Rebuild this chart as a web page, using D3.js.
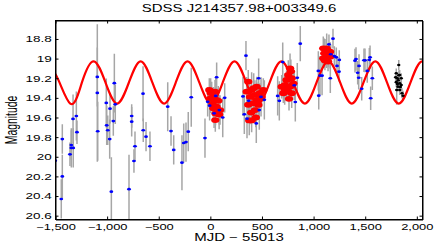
<!DOCTYPE html>
<html><head><meta charset="utf-8">
<script src="https://cdn.jsdelivr.net/npm/d3@7"></script>
<style>
body{margin:0;background:#fff}
svg{display:block}
text{font-family:"Liberation Sans",Arial,Helvetica,sans-serif;fill:#000}
</style>
</head><body>
<svg id="c" width="436" height="245"></svg>
<script>
const titleText = "SDSS J214357.98+003349.6";
const xLabelText = "MJD \u2212 55013";
const yLabelText = "Magnitude";
const xTicks = [-1500,-1000,-500,0,500,1000,1500,2000];
const yTicks = [18.8,19,19.2,19.4,19.6,19.8,20,20.2,20.4,20.6];

// blue points (day, magnitude, error)
const blueDay = [-1502,-1444,-1434,-1434,-1360,-1347,-1347,-1328,-1330,-1298,-1292,-1095,-1095,-1091,-1008,-1004,-994,-975,-972,-930,-921,-940,-959,-788,-762,-762,-740,-730,-652,-650,-623,-585,
-413,-381,-355,-275,-258,-236,-214,-185,-52,-26,-7,36,52,61,87,120,139,
316,329,345,355,371,445,468,474,491,523,652,668,701,
813,823,842,871,1046,1050,1062,1082,1149,1162,1166,1188,1201,1220,1227,1246,1249,
1401,1411,1427,1437,1440,1466,1488,1498,1520,1540,1547,1553,1569];
const blueMag = [20.04,20.43,20.2,19.82,19.975,19.91,19.88,19.91,19.615,19.585,19.75,19.187,19.35,19.74,19.452,19.68,19.73,19.82,19.51,19.25,19.466,19.636,20.356,20.33,19.585,19.643,20.043,19.893,19.357,19.73,19.795,19.893,
19.49,19.738,19.93,20.06,19.86,19.85,19.744,19.394,19.81,19.44,19.48,19.557,19.38,19.19,19.524,19.6,19.4,
19.385,19.568,18.97,19.612,19.43,19.66,19.2,19.524,19.39,19.42,19.38,19.43,19.035,
19.272,19.442,19.195,18.848,19.126,19.378,19.174,19.174,18.855,19.2,18.956,18.797,18.974,18.987,19.075,19.133,19.014,
19.021,19.004,19.144,19.195,19.075,19.307,19.017,19.018,19.126,19.013,18.987,19.404,19.2];
const blueErr = [0.05,0.2,0.22,0.15,0.12,0.2,0.15,0.2,0.25,0.25,0.12,0.3,0.7,0.3,0.25,0.2,0.15,0.2,0.15,0.3,0.2,0.15,0.35,0.35,0.12,0.15,0.12,0.15,0.28,0.12,0.15,0.15,
0.25,0.15,0.15,0.28,0.2,0.2,0.2,0.3,0.2,0.15,0.15,0.15,0.2,0.15,0.15,0.2,0.15,
0.2,0.2,0.15,0.2,0.2,0.2,0.2,0.2,0.2,0.2,0.2,0.2,0.2,
0.15,0.2,0.15,0.18,0.2,0.14,0.2,0.2,0.1,0.15,0.1,0.1,0.1,0.1,0.1,0.1,0.1,
0.12,0.12,0.12,0.12,0.12,0.12,0.12,0.12,0.12,0.12,0.12,0.12,0.12];

// red points
const redDay = [-10,3,13,45,3,30,61,77,29,60,94,48,20,50,85,
352,367,400,449,432,384,449,416,465,367,432,400,377,497,513,420,480,395,440,
691,707,720,723,738,740,755,755,762,772,772,780,788,788,804,
1094,1094,1104,1110,1120,1127,1127,1140,1143,1159,1160];
const redMag = [19.32,19.35,19.337,19.337,19.405,19.39,19.42,19.43,19.506,19.49,19.524,19.626,19.46,19.56,19.57,
19.337,19.235,19.32,19.286,19.37,19.39,19.42,19.455,19.472,19.47,19.524,19.63,19.63,19.39,19.32,19.3,19.35,19.55,19.6,
19.286,19.353,19.32,19.269,19.218,19.3,19.167,19.337,19.41,19.099,19.286,19.13,19.2,19.353,19.252,
18.895,18.997,18.946,19.02,18.92,18.895,18.997,19.03,18.963,18.93,18.98];
const redErr = [0.12,0.15,0.1,0.12,0.15,0.1,0.12,0.15,0.12,0.1,0.15,0.12,0.1,0.12,0.15,
0.15,0.12,0.18,0.1,0.15,0.12,0.18,0.1,0.15,0.12,0.1,0.12,0.15,0.1,0.12,0.15,0.1,0.12,0.1,
0.12,0.1,0.15,0.12,0.1,0.12,0.15,0.1,0.12,0.15,0.1,0.12,0.1,0.15,0.12,
0.12,0.1,0.15,0.1,0.12,0.15,0.1,0.1,0.12,0.1,0.12];

// black points
const blackDay = [1795,1801,1801,1805,1810,1812,1817,1820,1825,1826,1834,1834,1834,1840,1849,1849,1856,1866];
const blackMag = [19.19,19.15,19.24,19.32,19.2,19.26,19.286,19.22,19.065,19.17,19.167,19.252,19.32,19.29,19.2,19.27,19.353,19.378];
const blackErr = [0.05,0.05,0.05,0.15,0.05,0.05,0.05,0.05,0.05,0.05,0.05,0.05,0.05,0.05,0.05,0.05,0.05,0.05];

// model curve knots (extremes and mid-levels)
const modelDay = [-1584,-1500,-1357,-1244,-1130,-1016,-903,-789,-675,-562,-448,-335,-221,-107,7,120,234,347,461,575,688,802,916,1029,1143,1257,1370,1484,1598,1711,1825,1939,2052,2166];
const modelMag = [19.243,19.16,19.458,19.243,19.028,19.243,19.458,19.243,19.028,19.243,19.458,19.243,19.028,19.243,19.458,19.243,19.028,19.243,19.458,19.243,19.028,19.243,19.458,19.243,19.028,19.243,19.458,19.243,19.028,19.243,19.458,19.243,19.028,19.243];

const svg = d3.select("#c");
const L=55.5, R=422.5, T=20.5, B=219.5;
const x = d3.scaleLinear().domain([-1500,2055]).range([L,R]);
const y = d3.scaleLinear().domain([18.612,20.639]).range([T,B]);
const SX = 1.5;

svg.append("defs").append("clipPath").attr("id","clip")
  .append("rect").attr("x",L).attr("y",T).attr("width",R-L).attr("height",B-T);
const plot = svg.append("g").attr("clip-path","url(#clip)");

const mk = (d,m,e)=>d.map((v,i)=>({d:v,m:m[i],e:e[i]}));
const blue = mk(blueDay,blueMag,blueErr);
const red = mk(redDay,redMag,redErr);
const black = mk(blackDay,blackMag,blackErr);

// error bars
const allErr = red.concat(blue, black);
plot.append("g").selectAll("line").data(allErr).join("line")
  .attr("x1",p=>x(p.d)).attr("x2",p=>x(p.d))
  .attr("y1",p=>y(p.m-p.e)).attr("y2",p=>y(p.m+p.e))
  .attr("stroke","#a6a6a6").attr("stroke-width",1.5);

// model curve
const model = modelDay.map((d,i)=>({d,m:modelMag[i]}));
plot.append("path").datum(model)
  .attr("d", d3.line().x(p=>x(p.d)).y(p=>y(p.m)).curve(d3.curveNatural))
  .attr("fill","none").attr("stroke","#ff0000").attr("stroke-width",2.2);

// red markers
plot.append("g").selectAll("ellipse").data(red).join("ellipse")
  .attr("cx",p=>x(p.d)).attr("cy",p=>y(p.m)).attr("rx",4.2).attr("ry",2.9)
  .attr("fill","#ff0000");
// blue markers
plot.append("g").selectAll("ellipse").data(blue).join("ellipse")
  .attr("cx",p=>x(p.d)).attr("cy",p=>y(p.m)).attr("rx",1.9).attr("ry",1.35)
  .attr("fill","#0000ff");
// black markers
plot.append("g").selectAll("ellipse").data(black).join("ellipse")
  .attr("cx",p=>x(p.d)).attr("cy",p=>y(p.m)).attr("rx",1.7).attr("ry",1.3)
  .attr("fill","#000");

// axes
const ax = g=>{ g.selectAll("line").attr("stroke","#000"); g.select(".domain").attr("stroke","#000"); };
svg.append("g").attr("transform",`translate(0,${B})`)
  .call(d3.axisBottom(x).tickValues(xTicks).tickSize(-3).tickSizeOuter(0).tickPadding(4.3))
  .call(ax)
  .call(g=>g.selectAll("text").attr("font-size",8.6).attr("transform",`scale(${SX},1)`));
svg.append("g").attr("transform",`translate(0,${T})`)
  .call(d3.axisTop(x).tickValues(xTicks).tickSize(-3).tickSizeOuter(0).tickFormat(""))
  .call(ax);
svg.append("g").attr("transform",`translate(${L},0)`)
  .call(d3.axisLeft(y).tickValues(yTicks).tickSize(-3).tickSizeOuter(0).tickPadding(2.5).tickFormat(d=>String(d)))
  .call(ax)
  .call(g=>g.selectAll("text").attr("font-size",9).attr("transform",`scale(${SX},1)`));
svg.append("g").attr("transform",`translate(${R},0)`)
  .call(d3.axisRight(y).tickValues(yTicks).tickSize(-3).tickSizeOuter(0).tickFormat(""))
  .call(ax);
svg.selectAll(".tick text").attr("font-family","'Liberation Sans',Arial,sans-serif");

svg.append("rect").attr("x",L).attr("y",T).attr("width",R-L).attr("height",B-T)
  .attr("fill","none").attr("stroke","#000").attr("stroke-width",1);

// titles
svg.append("text").attr("transform",`translate(${(L+R)/2},11.6) scale(${SX},1)`)
  .attr("text-anchor","middle").attr("font-size",10).text(titleText);
svg.append("text").attr("transform",`translate(${(L+R)/2},240.7) scale(${SX},1)`)
  .attr("text-anchor","middle").attr("font-size",10).text(xLabelText);
svg.append("text").attr("transform",`translate(17,${(T+B)/2}) scale(${SX},1) rotate(-90)`)
  .attr("text-anchor","middle").attr("font-size",10.4).text(yLabelText);
</script>
</body></html>
